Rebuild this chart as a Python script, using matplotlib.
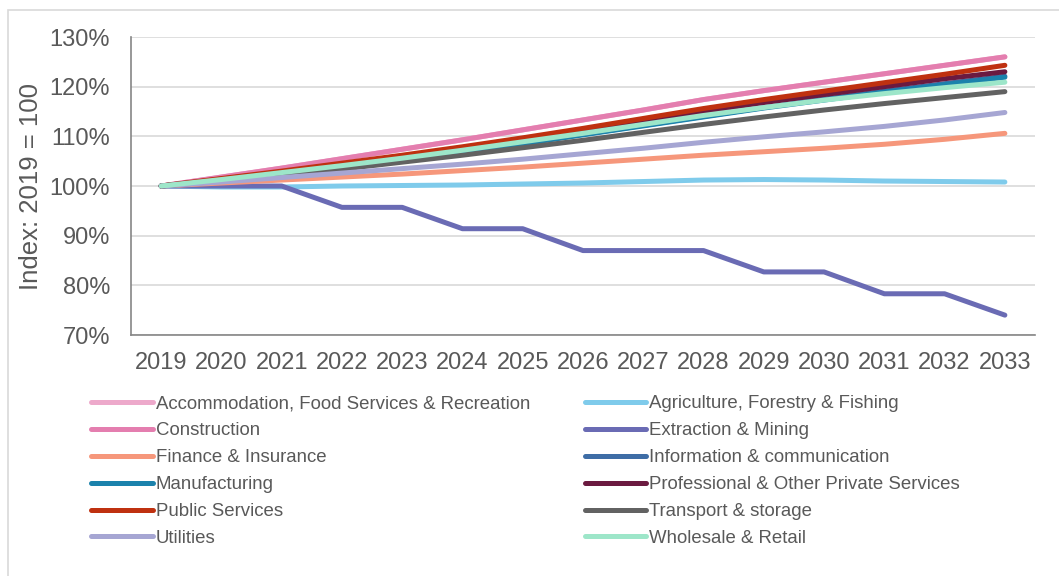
import numpy as np
import matplotlib.pyplot as plt
from matplotlib.patches import Rectangle
from matplotlib.ticker import FuncFormatter

plt.rcParams['font.family'] = ['Liberation Sans', 'DejaVu Sans']

years = list(range(2019, 2034))

# index values, 2019 = 100
accommodation = [100, 101.8, 103.6, 105.5, 107.4, 109.3, 111.3, 113.3, 115.3, 117.4, 119.2, 120.9, 122.6, 124.3, 126.0]
agriculture = [100, 99.8, 99.8, 100.0, 100.1, 100.2, 100.4, 100.6, 100.9, 101.2, 101.3, 101.2, 101.0, 100.9, 100.8]
construction = [100, 101.8, 103.6, 105.5, 107.4, 109.3, 111.3, 113.3, 115.3, 117.4, 119.2, 120.9, 122.6, 124.3, 126.0]
extraction = [100, 100, 100, 95.7, 95.7, 91.4, 91.4, 87.0, 87.0, 87.0, 82.7, 82.7, 78.3, 78.3, 74.0]
finance = [100, 100.6, 101.2, 101.8, 102.4, 103.1, 103.8, 104.6, 105.4, 106.2, 106.9, 107.6, 108.4, 109.4, 110.6]
information = [100, 101.2, 102.4, 103.8, 105.3, 106.9, 108.6, 110.4, 112.2, 114.0, 115.8, 117.5, 119.1, 120.6, 122.1]
manufacturing = [100, 101.1, 102.3, 103.7, 105.2, 106.8, 108.5, 110.3, 112.1, 113.9, 115.7, 117.3, 118.9, 120.4, 121.9]
professional = [100, 101.4, 102.8, 104.3, 105.9, 107.6, 109.4, 111.2, 113.1, 115.0, 116.8, 118.4, 120.0, 121.6, 123.0]
public = [100, 101.5, 103.0, 104.6, 106.2, 107.9, 109.7, 111.6, 113.6, 115.6, 117.4, 119.1, 120.8, 122.5, 124.3]
transport = [100, 101.0, 102.1, 103.4, 104.8, 106.2, 107.7, 109.2, 110.8, 112.4, 113.9, 115.3, 116.6, 117.8, 119.0]
utilities = [100, 100.8, 101.7, 102.6, 103.5, 104.4, 105.4, 106.5, 107.6, 108.8, 109.9, 110.9, 112.0, 113.3, 114.8]
wholesale = [100, 101.3, 102.7, 104.1, 105.6, 107.2, 108.9, 110.6, 112.4, 114.2, 115.8, 117.3, 118.6, 119.8, 120.9]

series = [
    ('Accommodation, Food Services & Recreation', accommodation, '#EDA9CB'),
    ('Agriculture, Forestry & Fishing', agriculture, '#7FCBEB'),
    ('Construction', construction, '#E47EAF'),
    ('Extraction & Mining', extraction, '#6A6BB4'),
    ('Finance & Insurance', finance, '#F6977B'),
    ('Information & communication', information, '#3E6DA6'),
    ('Manufacturing', manufacturing, '#1B82AC'),
    ('Professional & Other Private Services', professional, '#6B1A40'),
    ('Public Services', public, '#BF3110'),
    ('Transport & storage', transport, '#626262'),
    ('Utilities', utilities, '#A6A6D3'),
    ('Wholesale & Retail', wholesale, '#9DE6C9'),
]

fig = plt.figure(figsize=(10.59, 5.76), dpi=100)
fig.patches.append(Rectangle((8 / 1059, -0.1), 1.2, 1 - 10 / 576 + 0.1,
                             transform=fig.transFigure, fill=False,
                             edgecolor='#D9D9D9', linewidth=1.2))
ax = fig.add_axes([131 / 1059, 1 - 335 / 576, (1035 - 131) / 1059, (335 - 37) / 576])

x = np.arange(len(years))
handles = []
for name, vals, col in series:
    h, = ax.plot(x, np.array(vals) / 100, color=col, linewidth=3.6,
                 solid_capstyle='round', solid_joinstyle='round', label=name)
    handles.append(h)

ax.set_xlim(-0.5, len(years) - 0.5)
ax.set_ylim(0.70, 1.30)
ax.set_yticks(np.arange(0.70, 1.301, 0.10))
ax.yaxis.set_major_formatter(FuncFormatter(lambda v, p: f'{v * 100:.0f}%'))
ax.set_xticks(x)
ax.set_xticklabels([str(y) for y in years])
ax.tick_params(axis='both', length=0, labelsize=17, colors='#595959')
ax.tick_params(axis='x', pad=12)
ax.tick_params(axis='y', pad=15)
ax.grid(axis='y', color='#D9D9D9', linewidth=1.2)
ax.set_axisbelow(True)
for s in ['top', 'right']:
    ax.spines[s].set_visible(False)
for s in ['left', 'bottom']:
    ax.spines[s].set_color('#868686')
    ax.spines[s].set_linewidth(1.2)
ax.set_ylabel('Index: 2019 = 100', fontsize=18.5, color='#595959', labelpad=5)

# legend fills row by row: alternate entries go to the second column
order = list(range(0, 12, 2)) + list(range(1, 12, 2))
fig.legend([handles[i] for i in order], [series[i][0] for i in order],
           ncol=2, loc='upper left', bbox_to_anchor=(84 / 1059, 1 - 388 / 576),
           frameon=False, fontsize=13.4, labelcolor='#595959',
           handlelength=3.3, handletextpad=0.15, columnspacing=2.95,
           labelspacing=0.53, borderaxespad=0)

fig.savefig('out.png', dpi=100)
